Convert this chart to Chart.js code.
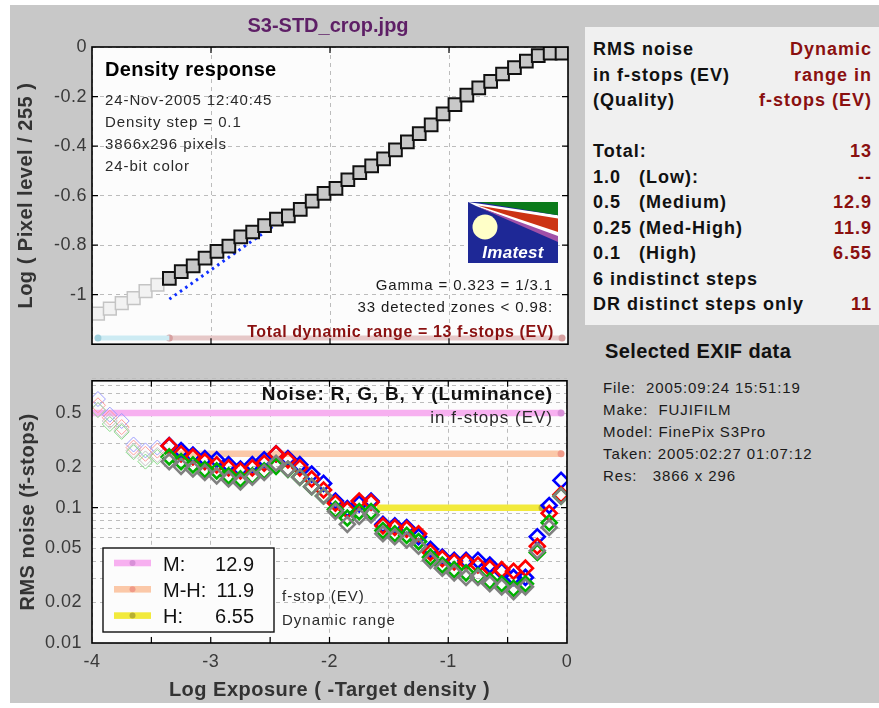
<!DOCTYPE html>
<html>
<head>
<meta charset="utf-8">
<title>S3-STD_crop.jpg - density response and noise</title>
<script src="https://cdn.jsdelivr.net/npm/chart.js@4.4.1/dist/chart.umd.min.js"></script>
<style>
  body { margin: 0; width: 879px; height: 708px; background: #fff; position: relative; overflow: hidden; font-family: "Liberation Sans", Arial, sans-serif; }
  #fig { position: absolute; left: 10px; top: 5px; width: 869px; height: 698px; background: #c8c8c8; }
  canvas { position: absolute; left: 0; }
  #densityChart { top: 0; }
  #noiseChart { top: 360px; }
  #drPanel { position: absolute; left: 585px; top: 27px; width: 294px; height: 298px; background: #f0f0f0; box-sizing: border-box;
             padding: 10px 7px 0 8px; font: bold 18px/25.5px "Liberation Sans", Arial, sans-serif; letter-spacing: 1px; color: #111; }
  .row { display: flex; justify-content: space-between; white-space: pre; }
  .dr { color: #8a1010; }
  .q { display: inline-block; width: 46px; }
  #exifTitle { position: absolute; left: 605px; top: 339px; font: bold 20px/24px "Liberation Sans", Arial, sans-serif; letter-spacing: 0.4px; color: #111; }
  #exif { position: absolute; left: 603px; top: 377px; font: 15px/22.1px "Liberation Sans", Arial, sans-serif; letter-spacing: 0.9px; color: #1a1a1a; white-space: pre; }
</style>
</head>
<body>
<div id="fig"></div>
<canvas id="densityChart" width="580" height="360"></canvas>
<canvas id="noiseChart" width="580" height="348"></canvas>
<div id="drPanel"></div>
<div id="exifTitle">Selected EXIF data</div>
<div id="exif"></div>

<script>
// --- data ---
const logExposure = [-3.95, -3.85, -3.75, -3.65, -3.55, -3.45, -3.35, -3.25, -3.15, -3.05,
  -2.95, -2.85, -2.75, -2.65, -2.55, -2.45, -2.35, -2.25, -2.15, -2.05,
  -1.95, -1.85, -1.75, -1.65, -1.55, -1.45, -1.35, -1.25, -1.15, -1.05,
  -0.95, -0.85, -0.75, -0.65, -0.55, -0.45, -0.35, -0.25, -0.15, -0.05];

const logPixelLevel = [-1.077, -1.056, -1.034, -1.014, -0.986, -0.960, -0.934, -0.907, -0.884, -0.852,
  -0.825, -0.804, -0.767, -0.747, -0.721, -0.695, -0.682, -0.656, -0.622, -0.591,
  -0.571, -0.536, -0.507, -0.480, -0.452, -0.415, -0.383, -0.350, -0.314, -0.270,
  -0.233, -0.194, -0.165, -0.139, -0.109, -0.083, -0.057, -0.035, -0.025, -0.025];

const noiseR = [0.571, 0.462, 0.394, 0.278, 0.250, 0.264, 0.286, 0.250, 0.237, 0.219,
  0.207, 0.197, 0.187, 0.197, 0.213, 0.250, 0.225, 0.197, 0.163, 0.135,
  0.108, 0.0958, 0.112, 0.1096, 0.0734, 0.0714, 0.0695, 0.0642, 0.0467, 0.042,
  0.0397, 0.0397, 0.0377, 0.0357, 0.0348, 0.0339, 0.0357, 0.0519, 0.0909, 0.125];
const noiseG = [0.527, 0.415, 0.363, 0.257, 0.219, 0.237, 0.237, 0.219, 0.207, 0.192,
  0.187, 0.172, 0.163, 0.172, 0.187, 0.202, 0.192, 0.168, 0.143, 0.122,
  0.097, 0.0839, 0.0934, 0.0934, 0.0678, 0.0642, 0.0625, 0.0562, 0.0431, 0.0377,
  0.0348, 0.033, 0.0313, 0.0288, 0.0274, 0.0253, 0.0274, 0.0467, 0.0774, 0.1216];
const noiseB = [0.635, 0.487, 0.437, 0.293, 0.265, 0.278, 0.287, 0.264, 0.245, 0.231,
  0.226, 0.208, 0.193, 0.208, 0.226, 0.250, 0.231, 0.208, 0.177, 0.151,
  0.112, 0.0984, 0.1066, 0.112, 0.0753, 0.0734, 0.0714, 0.061, 0.0492, 0.0431,
  0.0408, 0.0408, 0.0408, 0.0377, 0.0339, 0.0305, 0.0305, 0.061, 0.1038, 0.159];
const noiseY = [0.527, 0.437, 0.373, 0.264, 0.231, 0.245, 0.219, 0.202, 0.193, 0.182,
  0.172, 0.163, 0.155, 0.168, 0.182, 0.213, 0.193, 0.168, 0.143, 0.122,
  0.094, 0.0753, 0.0862, 0.0885, 0.0642, 0.061, 0.0578, 0.0519, 0.0408, 0.0357,
  0.033, 0.0305, 0.0305, 0.0274, 0.026, 0.024, 0.026, 0.048, 0.0714, 0.1216];

const gammaFitX = [-3.35, -2.47];
const gammaFitY = [-1.018, -0.721];
const rangeStripY = -1.175;
const indistinctStripX = [-3.95, -3.35];
const totalStripX = [-3.35, -0.05];

const noiseBandLevel = [0.5, 0.25, 0.1];
const noiseBandStart = [-4, -3.38, -1.6];
const noiseBandEnd = [-0.05, -0.05, -0.21];

const densityTicks = [0, -0.2, -0.4, -0.6, -0.8, -1];
const exposureTicks = [-4, -3.5, -3, -2.5, -2, -1.5, -1, -0.5, 0];
const noiseTickLabels = [0.01, 0.02, 0.05, 0.1, 0.2, 0.5];

const qualityLevels = ['1.0', '0.5', '0.25', '0.1'];
const qualityNames = ['(Low):', '(Medium)', '(Med-High)', '(High)'];
const qualityRanges = ['--', '12.9', '11.9', '6.55'];
const legendLabels = ['M:', 'M-H:', 'H:'];
const totalRange = '13';
const indistinctSteps = 6;
const distinctRange = '11';

const chartTitle = 'S3-STD_crop.jpg';
const infoLines = ['24-Nov-2005 12:40:45', 'Density step = 0.1', '3866x296 pixels', '24-bit color'];
const exifLines = ['File:  2005:09:24 15:51:19', 'Make:  FUJIFILM', 'Model: FinePix S3Pro',
  'Taken: 2005:02:27 01:07:12', 'Res:   3866 x 296'];

// --- helpers ---
const FONT = '"Liberation Sans", Arial, sans-serif';
Chart.defaults.font.family = FONT;
Chart.defaults.color = '#3a3a3a';

const pts = (xs, ys) => xs.map((x, i) => ({ x, y: ys[i] }));
const byStep = (normal, dim) => logExposure.map((_, i) => i < indistinctSteps ? dim : normal);

function text(ctx, s, x, y, font, color, align, spacing) {
  ctx.font = font + ' ' + FONT;
  ctx.fillStyle = color;
  ctx.textAlign = align;
  ctx.textBaseline = 'alphabetic';
  ctx.letterSpacing = spacing + 'px';
  ctx.fillText(s, x, y);
}

function poly(ctx, x, y, coords, color) {
  ctx.fillStyle = color;
  ctx.beginPath();
  coords.forEach(([px, py], i) => i ? ctx.lineTo(x + px, y + py) : ctx.moveTo(x + px, y + py));
  ctx.closePath();
  ctx.fill();
}

function drawLogo(ctx, x, y, w, h) {
  ctx.fillStyle = '#1e2896';
  ctx.fillRect(x, y, w, h);
  poly(ctx, x, y, [[0, 0], [w, 13.3], [w, 36], [8, 4]], '#ffffff');
  poly(ctx, x, y, [[10, 0], [w, 0], [w, 13.3]], '#0a7a1a');
  poly(ctx, x, y, [[10, 3.5], [w, 16.5], [w, 30]], '#cc3414');
  poly(ctx, x, y, [[8, 4], [w, 34], [w, 40]], '#a050a8');
  ctx.fillStyle = '#ffffc8';
  ctx.beginPath();
  ctx.arc(x + 17, y + 25, 12.5, 0, Math.PI * 2);
  ctx.fill();
  text(ctx, 'Imatest', x + 45, y + 56, 'italic bold 17px', '#ffffff', 'center', 0.3);
}

const plotBox = {
  id: 'plotBox',
  beforeDraw(chart) {
    const { ctx, chartArea: a } = chart;
    ctx.save();
    ctx.fillStyle = '#fcfcfc';
    ctx.fillRect(a.left, a.top, a.width, a.height);
    ctx.restore();
    ctx.letterSpacing = '0.5px';
  },
  afterDraw(chart, args, opts) {
    const { ctx, chartArea: a, scales } = chart;
    ctx.save();
    ctx.strokeStyle = '#000';
    ctx.lineWidth = 1.2;
    ctx.beginPath();
    (opts.xMarks || []).forEach(v => {
      const px = scales.x.getPixelForValue(v);
      ctx.moveTo(px, a.bottom); ctx.lineTo(px, a.bottom - 6);
      ctx.moveTo(px, a.top); ctx.lineTo(px, a.top + 6);
    });
    (opts.yMarks || []).forEach(v => {
      const py = scales.y.getPixelForValue(v);
      ctx.moveTo(a.left, py); ctx.lineTo(a.left + 6, py);
      ctx.moveTo(a.right, py); ctx.lineTo(a.right - 6, py);
    });
    ctx.stroke();
    ctx.lineWidth = 1.6;
    ctx.strokeRect(a.left, a.top, a.width, a.height);
    ctx.restore();
  }
};

const gridStyle = { color: '#bcbcbc', lineWidth: 1, drawTicks: false };
const borderStyle = { display: false, dash: [4, 4] };

// --- density response (top) ---
const densityNotes = {
  id: 'densityNotes',
  afterDraw(chart) {
    const { ctx } = chart;
    ctx.save();
    text(ctx, chartTitle, 328, 32, 'bold 20px', '#5e1f66', 'center', 0);
    text(ctx, 'Density response', 105, 76, 'bold 20px', '#000', 'left', 0.3);
    infoLines.forEach((s, i) => text(ctx, s, 105, 105 + 22 * i, '15px', '#2a2a2a', 'left', 0.9));
    drawLogo(ctx, 468, 202, 90, 61);
    text(ctx, 'Gamma = 0.323 = 1/3.1', 553, 290, '15px', '#1a1a1a', 'right', 0.9);
    text(ctx, '33 detected zones < 0.98:', 553, 312, '15px', '#1a1a1a', 'right', 0.9);
    text(ctx, 'Total dynamic range = ' + totalRange + ' f-stops (EV)', 554, 337, 'bold 16px', '#8a1010', 'right', 0.6);
    ctx.restore();
  }
};

new Chart(document.getElementById('densityChart'), {
  type: 'line',
  data: {
    datasets: [
      {
        label: 'Zones',
        data: pts(logExposure, logPixelLevel),
        showLine: false,
        pointStyle: 'rect',
        pointRadius: 9,
        pointBackgroundColor: byStep('#c8c8c8', '#f2f2f2'),
        pointBorderColor: byStep('#111111', '#c4c4c4'),
        pointBorderWidth: byStep(2, 1.5),
        order: 1
      },
      {
        label: 'Gamma fit',
        data: pts(gammaFitX, gammaFitY),
        borderColor: '#1030ff',
        borderWidth: 3,
        borderDash: [2.5, 4],
        pointRadius: 0,
        order: 2
      },
      {
        label: 'Indistinct steps',
        data: pts(indistinctStripX, [rangeStripY, rangeStripY]),
        borderColor: '#cdebf3',
        borderWidth: 5,
        pointRadius: [3.5, 0],
        pointBackgroundColor: '#9fcfdc',
        pointBorderWidth: 0,
        order: 3
      },
      {
        label: 'Total dynamic range',
        data: pts(totalStripX, [rangeStripY, rangeStripY]),
        borderColor: '#e6c8c8',
        borderWidth: 5,
        pointRadius: 3.5,
        pointBackgroundColor: '#d6a0a0',
        pointBorderWidth: 0,
        order: 3
      }
    ]
  },
  options: {
    responsive: false,
    animation: false,
    events: [],
    layout: { padding: { left: 0, right: 12, top: 47, bottom: 6 } },
    plugins: {
      legend: { display: false },
      tooltip: { enabled: false },
      plotBox: { xMarks: [-3, -2, -1], yMarks: densityTicks.slice(1) }
    },
    scales: {
      x: {
        type: 'linear', min: -4, max: 0,
        afterBuildTicks: s => { s.ticks = exposureTicks.filter(Number.isInteger).map(v => ({ value: v })); },
        afterFit: s => { s.height = 0; },
        ticks: { display: false },
        grid: gridStyle, border: borderStyle
      },
      y: {
        type: 'linear', min: -1.2, max: 0,
        afterBuildTicks: s => { s.ticks = densityTicks.map(v => ({ value: v })); },
        afterFit: s => { s.width = 92; },
        ticks: { padding: 5, font: { size: 18 }, color: '#3a3a3a', callback: v => String(v) },
        grid: gridStyle, border: borderStyle,
        title: { display: true, text: 'Log ( Pixel level / 255 )', color: '#333',
                 font: { size: 20, weight: 'bold' }, padding: { top: 14, bottom: 0 } }
      }
    }
  },
  plugins: [plotBox, densityNotes]
});

// --- noise (bottom) ---
const bandColors = ['#f7b0f0', '#fbc8a8', '#f2ea3c'];
const bandDots = ['#d890d8', '#f09a88', '#b8b030'];

const noiseNotes = {
  id: 'noiseNotes',
  afterDraw(chart) {
    const { ctx } = chart;
    ctx.save();
    text(ctx, 'Noise: R, G, B, Y (Luminance)', 553, 40, 'bold 19px', '#111', 'right', 0.8);
    text(ctx, 'in f-stops (EV)', 553, 63, '17px', '#2a2a2a', 'right', 1);
    text(ctx, 'f-stop (EV)', 282, 241, '15px', '#2a2a2a', 'left', 1);
    text(ctx, 'Dynamic range', 282, 265, '15px', '#2a2a2a', 'left', 1);

    // legend box
    ctx.fillStyle = '#fcfcfc';
    ctx.fillRect(103, 188, 171, 84);
    ctx.strokeStyle = '#111';
    ctx.lineWidth = 1.4;
    ctx.strokeRect(103, 188, 171, 84);
    legendLabels.forEach((lab, i) => {
      const cy = 203 + 26.3 * i;
      ctx.fillStyle = bandColors[i];
      ctx.fillRect(114, cy - 3.3, 37, 6.6);
      ctx.fillStyle = bandDots[i];
      ctx.beginPath();
      ctx.arc(132.5, cy, 3, 0, Math.PI * 2);
      ctx.fill();
      text(ctx, lab, 163, cy + 7.5, '20px', '#111', 'left', 0);
      text(ctx, qualityRanges[i + 1], 254, cy + 7.5, '20px', '#111', 'right', 0);
    });
    ctx.restore();
  }
};

const noiseSeries = [
  { label: 'Y', values: noiseY, color: '#808080', dim: '#c4c4c4', order: 1 },
  { label: 'G', values: noiseG, color: '#00b000', dim: '#88dd88', order: 2 },
  { label: 'R', values: noiseR, color: '#ff0000', dim: '#ff9c9c', order: 3 },
  { label: 'B', values: noiseB, color: '#0000ff', dim: '#9c9cff', order: 4 }
];

const noiseGrid = [];
[0.01, 0.1].forEach(d => [1, 2, 3, 4, 5, 6, 7, 8, 9].forEach(m => noiseGrid.push(+(m * d).toFixed(3))));

new Chart(document.getElementById('noiseChart'), {
  type: 'line',
  data: {
    datasets: [
      ...noiseSeries.map(s => ({
        label: s.label,
        data: pts(logExposure, s.values),
        showLine: false,
        pointStyle: 'rectRot',
        pointRadius: 7.5,
        pointBackgroundColor: 'rgba(0,0,0,0)',
        pointBorderColor: byStep(s.color, s.dim),
        pointBorderWidth: byStep(2.6, 1),
        order: s.order
      })),
      ...noiseBandLevel.map((lvl, i) => ({
        label: legendLabels[i],
        data: pts([noiseBandStart[i], noiseBandEnd[i]], [lvl, lvl]),
        borderColor: bandColors[i],
        borderWidth: 6.5,
        pointRadius: [0, 3.5],
        pointBackgroundColor: bandDots[i],
        pointBorderWidth: 0,
        order: 10
      }))
    ]
  },
  options: {
    responsive: false,
    animation: false,
    events: [],
    layout: { padding: { left: 0, right: 12, top: 4, bottom: 0 } },
    plugins: {
      legend: { display: false },
      tooltip: { enabled: false },
      plotBox: { xMarks: exposureTicks.slice(1, -1), yMarks: [0.1] }
    },
    scales: {
      x: {
        type: 'linear', min: -4, max: 0,
        afterBuildTicks: s => { s.ticks = exposureTicks.map(v => ({ value: v })); },
        afterFit: s => { s.height = 65; },
        ticks: { padding: 8, autoSkip: false, maxRotation: 0, font: { size: 18 }, color: '#3a3a3a',
                 callback: v => Number.isInteger(v) ? String(v) : '' },
        grid: gridStyle, border: borderStyle,
        title: { display: true, text: 'Log Exposure ( -Target density )', color: '#333',
                 font: { size: 20, weight: 'bold' }, padding: { top: 0, bottom: 6 } }
      },
      y: {
        type: 'logarithmic', min: 0.01, max: 0.866,
        afterBuildTicks: s => { s.ticks = noiseGrid.map(v => ({ value: v })); },
        afterFit: s => { s.width = 92; },
        ticks: { padding: 10, autoSkip: false, font: { size: 18 }, color: '#3a3a3a',
                 callback: v => noiseTickLabels.includes(v) ? String(v) : '' },
        grid: gridStyle, border: borderStyle,
        title: { display: true, text: 'RMS noise (f-stops)', color: '#333',
                 font: { size: 20, weight: 'bold' }, padding: { top: 16, bottom: 0 } }
      }
    }
  },
  plugins: [plotBox, noiseNotes]
});

// --- side panels ---
const rows = [
  ['RMS noise', 'Dynamic'],
  ['in f-stops (EV)', 'range in'],
  ['(Quality)', 'f-stops (EV)'],
  [' ', ''],
  ['Total:', totalRange],
  ...qualityLevels.map((q, i) => [`<span class="q">${q}</span>${qualityNames[i]}`, qualityRanges[i]]),
  [`${indistinctSteps} indistinct steps`, ''],
  ['DR distinct steps only', distinctRange]
];
document.getElementById('drPanel').innerHTML = rows
  .map(([l, r]) => `<div class="row"><span>${l}</span><span class="dr">${r}</span></div>`).join('');
document.getElementById('exif').textContent = exifLines.join('\n');
</script>
</body>
</html>
